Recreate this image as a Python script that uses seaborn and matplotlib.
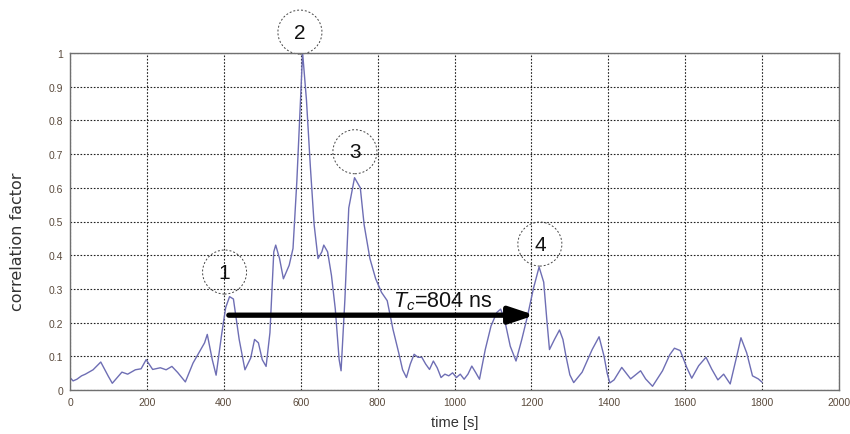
import numpy as np
import pandas as pd
import matplotlib
matplotlib.use("Agg")
import matplotlib.pyplot as plt
from matplotlib.patches import Ellipse
import seaborn as sns

# ========================== DATA ==========================

time_s = [0, 8, 18, 30, 40, 60, 80, 100, 110, 135, 150, 170, 185, 198, 215, 235, 250, 265,
          280, 300, 320, 335, 350, 357, 370, 380, 395, 405, 415, 425, 440, 455, 470, 480,
          490, 500, 510, 520, 530, 535, 545, 555, 570, 580, 590, 600, 605, 615, 625, 635,
          645, 655, 660, 670, 680, 690, 700, 705, 715, 725, 740, 755, 765, 780, 795, 810,
          825, 840, 855, 865, 875, 885, 895, 905, 915, 925, 935, 945, 955, 965, 975, 985,
          995, 1005, 1015, 1025, 1035, 1045, 1055, 1065, 1080, 1095, 1110, 1120, 1130, 1145,
          1160, 1175, 1190, 1205, 1220, 1232, 1240, 1247, 1260, 1273, 1282, 1290, 1300, 1310,
          1332, 1358, 1376, 1389, 1397, 1404, 1415, 1435, 1458, 1484, 1497, 1515, 1541, 1560,
          1572, 1587, 1604, 1617, 1635, 1654, 1669, 1685, 1700, 1717, 1734, 1745, 1760, 1775,
          1790, 1800]
corr = [0.037, 0.027, 0.032, 0.042, 0.047, 0.06, 0.083, 0.04, 0.02, 0.053, 0.047, 0.06,
        0.063, 0.09, 0.061, 0.066, 0.06, 0.07, 0.052, 0.024, 0.08, 0.11, 0.14, 0.165, 0.09,
        0.044, 0.17, 0.245, 0.277, 0.27, 0.15, 0.06, 0.095, 0.15, 0.14, 0.09, 0.07, 0.17,
        0.41, 0.43, 0.39, 0.33, 0.37, 0.42, 0.62, 0.87, 1.0, 0.86, 0.665, 0.49, 0.39, 0.41,
        0.43, 0.41, 0.34, 0.24, 0.09, 0.057, 0.27, 0.54, 0.63, 0.6, 0.49, 0.39, 0.33, 0.29,
        0.265, 0.18, 0.11, 0.06, 0.037, 0.077, 0.106, 0.097, 0.097, 0.077, 0.061, 0.086,
        0.066, 0.037, 0.047, 0.042, 0.051, 0.037, 0.047, 0.032, 0.047, 0.071, 0.052, 0.032,
        0.12, 0.19, 0.23, 0.24, 0.21, 0.13, 0.086, 0.15, 0.22, 0.3, 0.365, 0.32, 0.21, 0.12,
        0.15, 0.178, 0.15, 0.1, 0.045, 0.022, 0.053, 0.12, 0.158, 0.10, 0.05, 0.021, 0.03,
        0.067, 0.033, 0.057, 0.033, 0.011, 0.057, 0.105, 0.124, 0.117, 0.067, 0.035, 0.072,
        0.097, 0.062, 0.03, 0.047, 0.018, 0.10, 0.155, 0.11, 0.042, 0.033, 0.023]

peak_labels = ["1", "2", "3", "4"]
peak_x = [402, 598, 741, 1222]
peak_y = [0.35, 1.062, 0.707, 0.433]

arrow_start = (413, 0.222)
arrow_end = (1209, 0.222)
arrow_text = r"$T_c$=804 ns"

x_ticks = list(range(0, 2001, 200))
y_ticks = [0, 0.1, 0.2, 0.3, 0.4, 0.5, 0.6, 0.7, 0.8, 0.9, 1]
y_tick_labels = ["0", "0.1", "0.2", "0.3", "0.4", "0.5", "0.6", "0.7", "0.8", "0.9", "1"]

# ========================== PLOT ==========================

sns.set_style("white")
plt.rcParams['font.family'] = ['Liberation Sans Narrow', 'Liberation Sans', 'DejaVu Sans']
plt.rcParams['mathtext.fontset'] = 'custom'
plt.rcParams['mathtext.it'] = 'Liberation Sans:italic'
plt.rcParams['mathtext.rm'] = 'Liberation Sans'

df = pd.DataFrame({"time": time_s, "corr": corr})

fig = plt.figure(figsize=(8.5, 4.35), dpi=100)
ax = fig.add_axes([70 / 850, 1 - 391 / 435, (839 - 70) / 850, (391 - 54) / 435])

sns.lineplot(data=df, x="time", y="corr", ax=ax, color="#6e6eb4", linewidth=1.0)

ax.set_xlim(0, 2000)
ax.set_ylim(0, 1)
ax.set_xticks(x_ticks)
ax.set_yticks(y_ticks)
ax.set_yticklabels(y_tick_labels)
ax.grid(True, linestyle=(0, (1.5, 1.5)), color="#222222", linewidth=0.8)
ax.tick_params(labelsize=7.5, colors="#5a4a3c", length=0, pad=5)
for s in ax.spines.values():
    s.set_color("#707070")
    s.set_linewidth(1.0)

ax.set_xlabel("time [s]", fontsize=10.5, color="#333333", labelpad=6)
ax.set_ylabel("")
fig.text(18 / 850, 1 - 242 / 435, "correlation factor", rotation=90, ha="center", va="center",
         fontsize=11.5, color="#333333", family=['DejaVu Sans'])

# numbered circles
rx = 22 / 0.3845
ry = 22 / 337
for lab, px, py in zip(peak_labels, peak_x, peak_y):
    e = Ellipse((px, py), width=2 * rx, height=2 * ry, fill=False, edgecolor="#444444",
                linestyle=(0, (2, 2)), linewidth=0.7, clip_on=False)
    ax.add_patch(e)
    ax.text(px, py, lab, ha="center", va="center", fontsize=15, color="#111111",
            family=['Liberation Sans', 'DejaVu Sans'], clip_on=False)

# arrow
ax.annotate("", xy=arrow_end, xytext=arrow_start,
            arrowprops=dict(arrowstyle="-|>,head_length=1.5,head_width=0.5",
                            color="black", lw=3.8, shrinkA=0, shrinkB=0))
ax.text(840, 0.265, arrow_text, fontsize=15.5, color="#111111", va="center",
        family=['Liberation Sans', 'DejaVu Sans'])

plt.savefig("out.png", dpi=100)
